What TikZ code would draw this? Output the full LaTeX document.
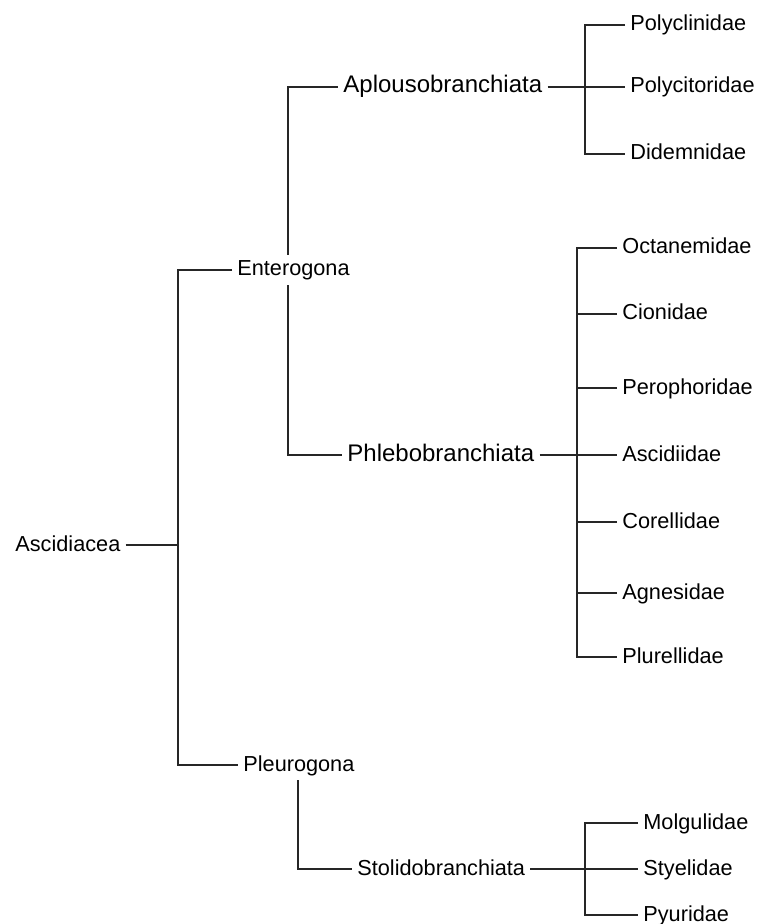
\documentclass[tikz,border=0pt]{standalone}
\usepackage{fontspec}
\setmainfont{Liberation Sans}
\usetikzlibrary{calc}

\begin{document}
\begin{tikzpicture}[x=0.5pt, y=-0.5pt,
    taxon/.style={anchor=west, inner xsep=2.5pt, inner ysep=3pt, text height=0.75em, text depth=0.15em, font=\fontsize{10.85}{13}\selectfont},
    orden/.style={taxon, font=\fontsize{12}{14}\selectfont},
    rama/.style={line width=0.6pt, black!85}]
    % Fijar los limites del dibujo
    \useasboundingbox (0,0) rectangle (756,924);

    % Clase y subclases
    \node[taxon] (asc)  at (10,545)  {Ascidiacea};
    \node[taxon] (ent)  at (232,270) {Enterogona};
    \node[taxon] (pleu) at (238,765) {Pleurogona};

    % Ordenes
    \node[orden] (aplo) at (338,87)  {Aplousobranchiata};
    \node[orden] (phle) at (342,455) {Phlebobranchiata};
    \node[taxon] (stol) at (352,869) {Stolidobranchiata};

    % Familias de Aplousobranchiata
    \node[taxon] (polycl)  at (625,25)  {Polyclinidae};
    \node[taxon] (polycit) at (625,87)  {Polycitoridae};
    \node[taxon] (didem)   at (625,154) {Didemnidae};

    % Familias de Phlebobranchiata
    \node[taxon] (octa) at (617,248) {Octanemidae};
    \node[taxon] (cion) at (617,314) {Cionidae};
    \node[taxon] (pero) at (617,388) {Perophoridae};
    \node[taxon] (ascd) at (617,455) {Ascidiidae};
    \node[taxon] (core) at (617,522) {Corellidae};
    \node[taxon] (agne) at (617,593) {Agnesidae};
    \node[taxon] (plur) at (617,657) {Plurellidae};

    % Familias de Stolidobranchiata
    \node[taxon] (molg)  at (638,823) {Molgulidae};
    \node[taxon] (styel) at (638,869) {Styelidae};
    \node[taxon] (pyur)  at (638,915) {Pyuridae};

    % Puntos de union de las ramas
    \coordinate (jA)  at (178,545);
    \coordinate (jE)  at (288,270);
    \coordinate (jP)  at (298,765);
    \coordinate (jAp) at (585,87);
    \coordinate (jPh) at (577,455);
    \coordinate (jSt) at (585,869);

    % Ramas de la clase
    \draw[rama] (asc.east) -- (jA);
    \draw[rama] (ent.west) -| (jA) |- (pleu.west);

    % Ramas de las subclases
    \draw[rama] (ent.north -| jE) |- (aplo.west);
    \draw[rama] (ent.south -| jE) |- (phle.west);
    \draw[rama] (pleu.south -| jP) |- (stol.west);

    % Ramas de Aplousobranchiata
    \draw[rama] (aplo.east) -- (polycit.west);
    \draw[rama] (polycl.west) -| (jAp) |- (didem.west);

    % Ramas de Phlebobranchiata
    \draw[rama] (phle.east) -- (ascd.west);
    \draw[rama] (octa.west) -| (jPh) |- (plur.west);
    \foreach \f in {cion, pero, core, agne}
        \draw[rama] (\f.west) -- (\f.west -| jPh);

    % Ramas de Stolidobranchiata
    \draw[rama] (stol.east) -- (styel.west);
    \draw[rama] (molg.west) -| (jSt) |- (pyur.west);

\end{tikzpicture}
\end{document}
